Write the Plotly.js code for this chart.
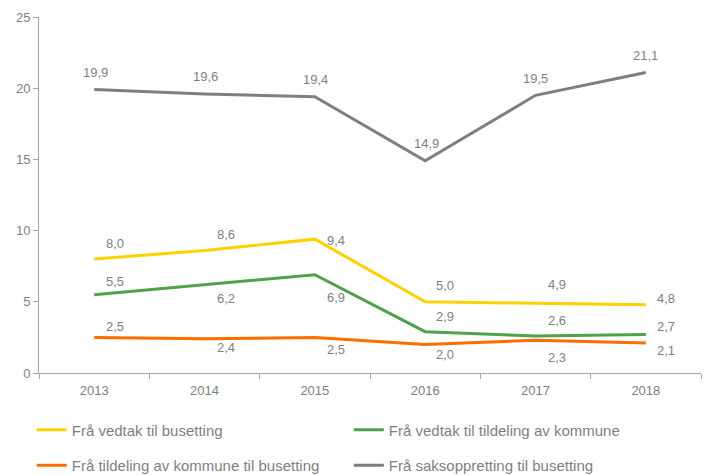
<!DOCTYPE html>
<html>
<head>
<meta charset="utf-8">
<script src="https://cdn.plot.ly/plotly-3.0.1.min.js"></script>
<style>html,body{margin:0;padding:0;background:#fff;}#chart{width:709px;height:475px;}#err{position:absolute;left:100px;top:0;font:10px sans-serif;color:red;}</style>
</head>
<body>
<div id="chart"></div>
<div id="err"></div>
<script>
// ---- data ----
var years = ['2013', '2014', '2015', '2016', '2017', '2018'];
var vedtakBusetting = [8.0, 8.6, 9.4, 5.0, 4.9, 4.8];
var vedtakTildeling = [5.5, 6.2, 6.9, 2.9, 2.6, 2.7];
var tildelingBusetting = [2.5, 2.4, 2.5, 2.0, 2.3, 2.1];
var saksopprettingBusetting = [19.9, 19.6, 19.4, 14.9, 19.5, 21.1];
var seriesNames = [
  'Frå vedtak til busetting',
  'Frå vedtak til tildeling av kommune',
  'Frå tildeling av kommune til busetting',
  'Frå saksoppretting til busetting'
];

// ---- styles ----
var colors = ['#FFD100', '#4FA24B', '#FF6C00', '#7F7F7F'];
var textColor = '#7F7F7F';
var axisColor = '#A6A6A6';
var fontFamily = 'Liberation Sans, Arial, sans-serif';

// label offsets (pixels: dx right, dy down) per series/point
var labelDx = [
  [21, 21, 21, 20, 21, 20],
  [21, 21, 21, 20, 21, 20],
  [21, 21, 21, 20, 21, 20],
  [1, 1, 1, 1, 0, 0]
];
var labelDy = [
  [-16, -16, 1, -16, -19, -6],
  [-13, 14, 23, -15, -15, -8],
  [-11, 9, 12, 10, 17, 7],
  [-17, -17, -17, -17, -17, -17]
];

var allSeries = [vedtakBusetting, vedtakTildeling, tildelingBusetting, saksopprettingBusetting];
var legendIds = ['legend', 'legend2', 'legend3', 'legend4'];
var legendPos = [[-0.011, -0.160], [0.468, -0.160], [-0.011, -0.260], [0.468, -0.260]];

function fmt(v) { return v.toFixed(1).replace('.', ','); }

var traces = allSeries.map(function (vals, k) {
  return {
    type: 'scatter',
    mode: 'lines',
    x: years,
    y: vals,
    name: seriesNames[k],
    legend: legendIds[k],
    line: { color: colors[k], width: 3 },
    hoverinfo: 'skip'
  };
});

var annotations = [];
allSeries.forEach(function (vals, k) {
  vals.forEach(function (v, i) {
    annotations.push({
      x: i, y: v, xref: 'x', yref: 'y',
      text: fmt(v), showarrow: false,
      xshift: labelDx[k][i], yshift: -labelDy[k][i],
      font: { family: fontFamily, size: 13, color: textColor }
    });
  });
});

var layout = {
  width: 709, height: 475,
  margin: { l: 39, r: 8, t: 17, b: 102, pad: 0, autoexpand: false },
  paper_bgcolor: '#ffffff', plot_bgcolor: '#ffffff',
  font: { family: fontFamily, size: 13, color: textColor },
  showlegend: true,
  xaxis: {
    type: 'category',
    range: [-0.5, 5.5],
    showgrid: false, zeroline: false,
    showline: true, linecolor: axisColor, linewidth: 1,
    ticks: 'outside', tickson: 'boundaries', ticklen: 5, tickcolor: axisColor,
    ticklabelstandoff: 5,
    tickfont: { family: fontFamily, size: 13, color: textColor }
  },
  yaxis: {
    range: [0, 25], dtick: 5, tick0: 0,
    showgrid: false, zeroline: false,
    showline: true, linecolor: axisColor, linewidth: 1,
    ticks: 'outside', ticklen: 5, tickcolor: axisColor,
    tickfont: { family: fontFamily, size: 13, color: textColor }
  },
  annotations: annotations
};
legendIds.forEach(function (id, k) {
  layout[id] = {
    orientation: 'h',
    xref: 'paper', yref: 'paper',
    x: legendPos[k][0], y: legendPos[k][1],
    xanchor: 'left', yanchor: 'middle',
    font: { family: fontFamily, size: 15, color: textColor },
    bgcolor: 'rgba(0,0,0,0)', borderwidth: 0
  };
});

try {
  Plotly.newPlot('chart', traces, layout, { displayModeBar: false, staticPlot: true })
    .catch(function (e) { document.getElementById('err').textContent = 'ERR ' + e; });
} catch (e) {
  document.getElementById('err').textContent = 'ERR ' + e;
}
</script>
</body>
</html>
